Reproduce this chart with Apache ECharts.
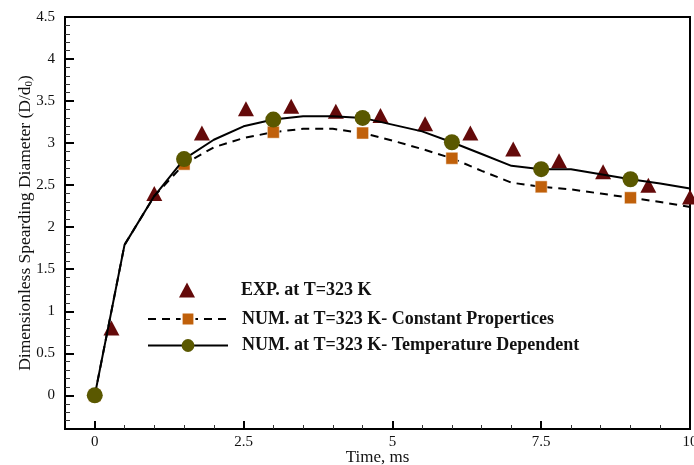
<!DOCTYPE html>
<html>
<head>
<meta charset="utf-8">
<script src="https://cdn.jsdelivr.net/npm/echarts@6/dist/echarts.min.js"></script>
<style>html,body{margin:0;padding:0;background:#fff}#c{width:694px;height:465px}</style>
</head>
<body>
<div id="c"></div>
<script>
// ---- data ----
const numTime = [0, 0.5, 1, 1.5, 2, 2.5, 3, 3.5, 4, 4.5, 5, 5.5, 6, 6.5, 7, 7.5, 8, 8.5, 9, 9.5, 10];
const numConst = [0, 1.79, 2.37, 2.75, 2.95, 3.06, 3.13, 3.17, 3.17, 3.12, 3.03, 2.93, 2.82, 2.67, 2.53, 2.48, 2.45, 2.40, 2.35, 2.30, 2.24];
const numTemp = [0, 1.79, 2.37, 2.81, 3.04, 3.20, 3.28, 3.32, 3.32, 3.30, 3.22, 3.14, 3.01, 2.87, 2.73, 2.69, 2.69, 2.63, 2.57, 2.52, 2.46];
const expTime = [0.28, 1.0, 1.8, 2.54, 3.3, 4.05, 4.8, 5.55, 6.31, 7.03, 7.8, 8.54, 9.3, 10.0];
const expVal = [0.80, 2.40, 3.12, 3.41, 3.44, 3.38, 3.33, 3.23, 3.12, 2.93, 2.79, 2.66, 2.50, 2.36];
const seriesNames = ['EXP. at T=323 K', 'NUM. at T=323 K- Constant Propertices', 'NUM. at T=323 K- Temperature Dependent'];
const xMajorTicks = [0, 2.5, 5, 7.5, 10];
const xMinorTicks = [0.5, 1, 1.5, 2, 3, 3.5, 4, 4.5, 5.5, 6, 6.5, 7, 8, 8.5, 9, 9.5];
const yMajorTicks = [0, 0.5, 1, 1.5, 2, 2.5, 3, 3.5, 4, 4.5];
const yMinorTicks = [-0.3, -0.2, -0.1, 0.1, 0.2, 0.3, 0.4, 0.6, 0.7, 0.8, 0.9, 1.1, 1.2, 1.3, 1.4, 1.6, 1.7, 1.8, 1.9, 2.1, 2.2, 2.3, 2.4, 2.6, 2.7, 2.8, 2.9, 3.1, 3.2, 3.3, 3.4, 3.6, 3.7, 3.8, 3.9, 4.1, 4.2, 4.3, 4.4];
const markerEvery = 3;

const serif = '"Liberation Serif", "DejaVu Serif", serif';
const chart = echarts.init(document.getElementById('c'), null, {renderer: 'canvas'});

function withMarkers(vals, sym) {
  return numTime.map((x, i) => ({value: [x, vals[i]], symbol: i % markerEvery === 0 ? sym : 'none'}));
}

const xCommon = {type: 'value', min: -0.5, max: 10};
const yCommon = {type: 'value', min: -0.4, max: 4.5};
const legendText = {fontFamily: serif, fontWeight: 'bold', fontSize: 18, color: '#111', lineHeight: 18};

chart.setOption({
  animation: false,
  backgroundColor: '#fff',
  grid: {left: 65, right: 4, top: 17, bottom: 36, show: true, borderColor: '#000', borderWidth: 2, containLabel: false, outerBoundsMode: 'none'},
  legend: [
    {
      orient: 'vertical', left: 179, top: 281, padding: 0,
      itemWidth: 16, itemHeight: 15,
      data: [seriesNames[0]],
      textStyle: Object.assign({padding: [0, 0, 0, 41]}, legendText)
    },
    {
      orient: 'vertical', left: 147, top: 310, padding: 0,
      itemWidth: 80, itemHeight: 16, itemGap: 8.5,
      data: [seriesNames[1], seriesNames[2]],
      textStyle: Object.assign({padding: [0, 0, 0, 9]}, legendText)
    }
  ],
  xAxis: [
    Object.assign({}, xCommon, {
      name: 'Time, ms', nameLocation: 'middle', nameGap: 20, nameMoveOverlap: false,
      nameTextStyle: {fontFamily: serif, fontSize: 17, color: '#111'},
      axisLine: {show: true, onZero: false, lineStyle: {color: '#000', width: 2}},
      axisTick: {show: true, inside: true, length: 8, customValues: xMajorTicks, lineStyle: {color: '#000', width: 2}},
      axisLabel: {show: true, margin: 6, customValues: xMajorTicks, fontFamily: serif, fontSize: 15, color: '#111'},
      splitLine: {show: false}
    }),
    Object.assign({}, xCommon, {
      position: 'bottom',
      axisLine: {show: false, onZero: false},
      axisTick: {show: true, inside: true, length: 4, customValues: xMinorTicks, lineStyle: {color: '#333', width: 1}},
      axisLabel: {show: false},
      splitLine: {show: false}
    })
  ],
  yAxis: [
    Object.assign({}, yCommon, {
      name: 'Dimensionless Spearding Diameter (D/d{sub|0})', nameLocation: 'middle', nameGap: 30, nameMoveOverlap: false,
      nameTextStyle: {fontFamily: serif, fontSize: 17.5, color: '#111', rich: {sub: {fontFamily: serif, fontSize: 11, verticalAlign: 'bottom', padding: [9, 0, 0, 0], color: '#111'}}},
      axisLine: {show: true, onZero: false, lineStyle: {color: '#000', width: 2}},
      axisTick: {show: true, inside: true, length: 9, customValues: yMajorTicks, lineStyle: {color: '#000', width: 2}},
      axisLabel: {show: true, margin: 10, customValues: yMajorTicks, fontFamily: serif, fontSize: 15, color: '#111'},
      splitLine: {show: false}
    }),
    Object.assign({}, yCommon, {
      position: 'left',
      axisLine: {show: false, onZero: false},
      axisTick: {show: true, inside: true, length: 5, customValues: yMinorTicks, lineStyle: {color: '#333', width: 1}},
      axisLabel: {show: false},
      splitLine: {show: false}
    })
  ],
  series: [
    {
      name: seriesNames[0], type: 'scatter', xAxisIndex: 0, yAxisIndex: 0,
      symbol: 'triangle', symbolSize: [16, 15],
      itemStyle: {color: '#640a0a', opacity: 1},
      data: expTime.map((x, i) => [x, expVal[i]]),
      z: 2
    },
    {
      name: seriesNames[1], type: 'line', xAxisIndex: 0, yAxisIndex: 0,
      symbol: 'rect', symbolSize: 12, showAllSymbol: true,
      lineStyle: {color: '#000', width: 2, type: [8, 6]},
      itemStyle: {color: '#c0600a', borderColor: '#fff', borderWidth: 0.5},
      data: withMarkers(numConst, 'rect'),
      z: 3
    },
    {
      name: seriesNames[2], type: 'line', xAxisIndex: 0, yAxisIndex: 0,
      symbol: 'circle', symbolSize: 16, showAllSymbol: true,
      lineStyle: {color: '#000', width: 2},
      itemStyle: {color: '#5a5800'},
      data: withMarkers(numTemp, 'circle'),
      z: 4
    }
  ]
});
</script>
</body>
</html>
